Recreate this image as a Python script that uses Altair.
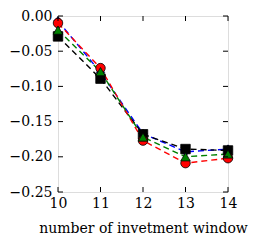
import altair as alt
import pandas as pd

windows = [10, 11, 12, 13, 14]
series_names = ["blue", "black", "red", "green"]
blue_vals = [-0.007, -0.080, -0.167, -0.193, -0.189]
black_vals = [-0.029, -0.089, -0.168, -0.189, -0.191]
red_vals = [-0.010, -0.074, -0.177, -0.209, -0.202]
green_vals = [-0.020, -0.079, -0.172, -0.200, -0.196]
x_ticks = [10, 11, 12, 13, 14]
y_ticks = [0.0, -0.05, -0.10, -0.15, -0.20, -0.25]

colors = ["#0000ff", "#000000", "#ff0000", "#008000"]
shapes = ["diamond", "square", "circle", "triangle-up"]
marker_sizes = [70, 90, 90, 90]

rows = []
for name, vals, ms in zip(series_names, [blue_vals, black_vals, red_vals, green_vals], marker_sizes):
    for i, (w, v) in enumerate(zip(windows, vals)):
        rows.append({"series": name, "window": w, "value": v, "order": i, "ms": ms})
df = pd.DataFrame(rows)

W, H = 170, 176
FONT = "DejaVu Serif"

xscale = alt.Scale(domain=[10, 14], nice=False, zero=False)
yscale = alt.Scale(domain=[-0.25, 0.0], nice=False, zero=False)
cscale = alt.Scale(domain=series_names, range=colors)
sscale = alt.Scale(domain=series_names, range=shapes)

xaxis = alt.Axis(values=x_ticks, format="d", ticks=False, domain=False, grid=False,
                 labelFlush=False, labelOverlap=False,
                 title="number of invetment window", labelPadding=4,
                 titlePadding=11, titleFontWeight="normal", titleFontSize=14,
                 titleFont=FONT, labelFont=FONT, labelFontSize=14,
                 labelColor="black", titleColor="black")
yaxis = alt.Axis(values=y_ticks, format=".2f", ticks=False, domain=False, grid=False,
                 labelFlush=False, labelOverlap=False,
                 title=None, labelPadding=6, labelFont=FONT, labelFontSize=14,
                 labelColor="black")

base = alt.Chart(df)
lines = base.mark_line(strokeDash=[6, 4], strokeWidth=1.4).encode(
    x=alt.X("window:Q", scale=xscale, axis=xaxis),
    y=alt.Y("value:Q", scale=yscale, axis=yaxis),
    color=alt.Color("series:N", scale=cscale, legend=None),
    detail="series:N",
    order="order:Q",
)
points = base.mark_point(filled=True, stroke="black", strokeWidth=0.8, opacity=1).encode(
    x=alt.X("window:Q", scale=xscale, axis=xaxis),
    y=alt.Y("value:Q", scale=yscale, axis=yaxis),
    fill=alt.Fill("series:N", scale=cscale, legend=None),
    shape=alt.Shape("series:N", scale=sscale, legend=None),
    size=alt.Size("ms:Q", scale=None, legend=None),
)

xt = pd.DataFrame({"window": x_ticks})
yt = pd.DataFrame({"value": y_ticks})
tl = 5
xb = alt.Chart(xt).mark_rule(color="black", strokeWidth=1).encode(
    x=alt.X("window:Q", scale=xscale, axis=xaxis), y=alt.value(H), y2=alt.value(H - tl))
xtop = alt.Chart(xt).mark_rule(color="black", strokeWidth=1).encode(
    x=alt.X("window:Q", scale=xscale, axis=xaxis), y=alt.value(0), y2=alt.value(tl))
yl = alt.Chart(yt).mark_rule(color="black", strokeWidth=1).encode(
    y=alt.Y("value:Q", scale=yscale, axis=yaxis), x=alt.value(0), x2=alt.value(tl))
yr = alt.Chart(yt).mark_rule(color="black", strokeWidth=1).encode(
    y=alt.Y("value:Q", scale=yscale, axis=yaxis), x=alt.value(W), x2=alt.value(W - tl))

chart = alt.layer(lines, points, xb, xtop, yl, yr).properties(
    width=W, height=H,
    autosize=alt.AutoSizeParams(type="none"),
    padding={"left": 50, "top": 8, "right": 21, "bottom": 47},
).configure_view(stroke="black", strokeWidth=1.2).configure(background="white")

chart.save("out.html", embed_options={"renderer": "svg", "actions": False})
